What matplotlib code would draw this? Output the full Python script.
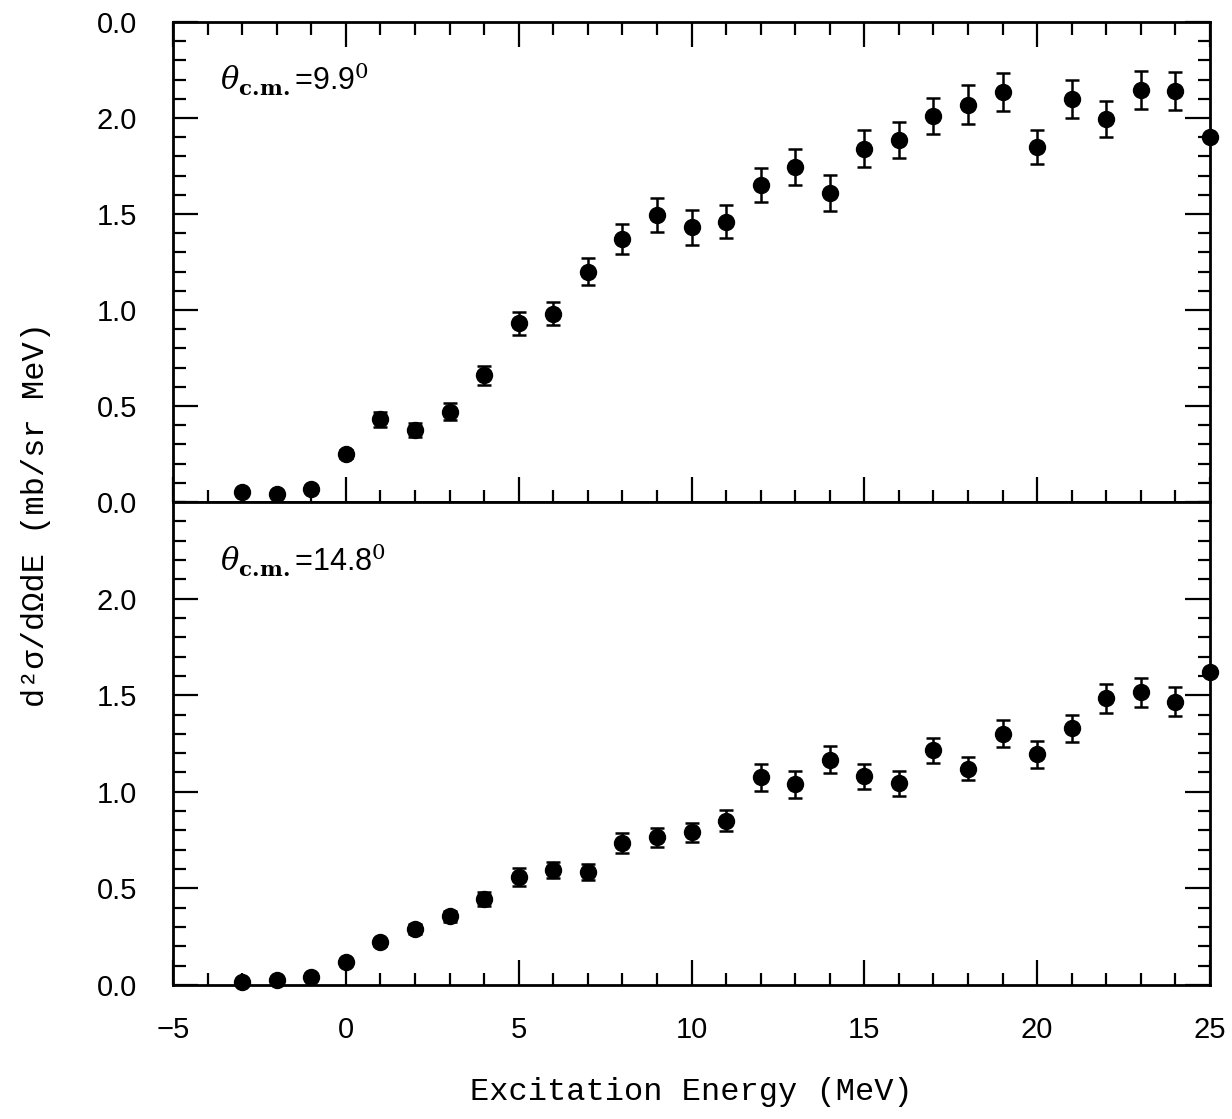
import numpy as np
import matplotlib.pyplot as plt
from matplotlib.ticker import MultipleLocator

plt.rcParams["mathtext.fontset"] = "dejavuserif"

# excitation energy bins (MeV)
energy = np.arange(-3, 26)

# theta_cm = 9.9 deg
xs_99 = [0.05, 0.04, 0.07, 0.25, 0.43, 0.375, 0.47, 0.66, 0.93, 0.98,
         1.20, 1.37, 1.495, 1.43, 1.46, 1.65, 1.745, 1.61, 1.84, 1.885,
         2.01, 2.07, 2.135, 1.85, 2.10, 1.995, 2.145, 2.14, 1.90]
err_99 = [0.01, 0.01, 0.015, 0.02, 0.04, 0.035, 0.045, 0.05, 0.06, 0.06,
          0.07, 0.08, 0.09, 0.09, 0.085, 0.09, 0.095, 0.095, 0.095, 0.095,
          0.095, 0.10, 0.10, 0.09, 0.10, 0.095, 0.10, 0.10, 0.0]

# theta_cm = 14.8 deg
xs_148 = [0.015, 0.025, 0.04, 0.12, 0.22, 0.29, 0.355, 0.445, 0.56, 0.595,
          0.585, 0.735, 0.765, 0.79, 0.85, 1.075, 1.04, 1.165, 1.08, 1.045,
          1.215, 1.12, 1.30, 1.195, 1.33, 1.485, 1.515, 1.465, 1.62]
err_148 = [0.01, 0.01, 0.015, 0.015, 0.02, 0.025, 0.03, 0.035, 0.045, 0.04,
           0.04, 0.05, 0.05, 0.05, 0.055, 0.07, 0.07, 0.07, 0.065, 0.065,
           0.065, 0.06, 0.07, 0.07, 0.07, 0.075, 0.075, 0.075, 0.0]

W, H = 1232, 1119
fig = plt.figure(figsize=(W / 100, H / 100), dpi=100)

left, right = 173 / W, 1210 / W
y_top, y_mid, y_bot = 1 - 22 / H, 1 - 502 / H, 1 - 985 / H
ax1 = fig.add_axes([left, y_mid, right - left, y_top - y_mid])
ax2 = fig.add_axes([left, y_bot, right - left, y_mid - y_bot])

tick_font = {"family": "Liberation Sans", "size": 21}
mono = "Liberation Mono"


def style_axis(ax, top_ticks):
    ax.set_xlim(-5, 25)
    ax.set_ylim(0, 2.5)
    ax.xaxis.set_major_locator(MultipleLocator(5))
    ax.xaxis.set_minor_locator(MultipleLocator(1))
    ax.yaxis.set_minor_locator(MultipleLocator(0.1))
    for s in ax.spines.values():
        s.set_linewidth(2.0)
    ax.tick_params(which="both", direction="in", top=top_ticks, right=True,
                   width=1.6, colors="black")
    ax.tick_params(which="major", length=18)
    ax.tick_params(which="minor", length=9)
    ax.tick_params(axis="y", pad=26)
    ax.tick_params(axis="x", pad=22)


def draw(ax, y, e, label):
    ax.errorbar(energy, y, yerr=e, fmt="o", color="black", ms=11.5,
                elinewidth=1.8, capsize=5, capthick=1.8, clip_on=False)
    ax.text(-3.65, 2.2, label, fontsize=22, va="center", ha="left",
            family="Liberation Sans")


style_axis(ax1, True)
style_axis(ax2, False)
draw(ax1, xs_99, err_99, r"$\theta_{\mathbf{c.\!m.}}$=9.9$^{0}$")
draw(ax2, xs_148, err_148, r"$\theta_{\mathbf{c.\!m.}}$=14.8$^{0}$")

ax1.set_yticks([0, 0.5, 1.0, 1.5, 2.0, 2.5])
ax1.set_yticklabels(["0.0", "0.5", "1.0", "1.5", "2.0", "0.0"], fontdict=tick_font)
ax1.set_xticklabels([])
ax2.set_yticks([0, 0.5, 1.0, 1.5, 2.0])
ax2.set_yticklabels(["0.0", "0.5", "1.0", "1.5", "2.0"], fontdict=tick_font)
ax2.set_xticks([-5, 0, 5, 10, 15, 20, 25])
ax2.set_xticklabels(["\u22125", "0", "5", "10", "15", "20", "25"], fontdict=tick_font)

fig.text((left + right) / 2, 1 - 1092 / H, "Excitation Energy (MeV)",
         family=mono, fontsize=23, ha="center", va="center")
fig.text(36 / W, 1 - 515 / H, "d\u00b2\u03c3/d\u03a9dE (mb/sr MeV)",
         family=mono, fontsize=23, ha="center", va="center", rotation=90)

fig.savefig("out.png", dpi=100)
